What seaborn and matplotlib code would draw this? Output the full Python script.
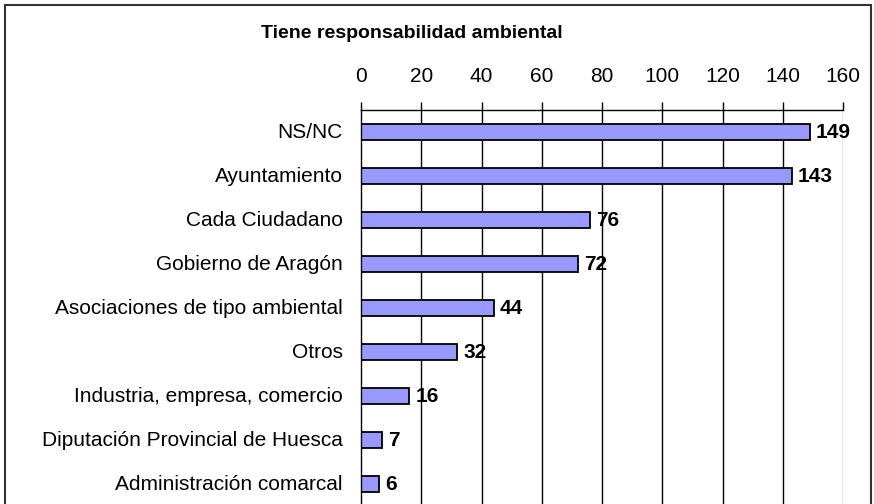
import matplotlib.pyplot as plt
import seaborn as sns
import pandas as pd
from matplotlib.patches import Rectangle

# chart data
categories = ["NS/NC", "Ayuntamiento", "Cada Ciudadano", "Gobierno de Aragón",
              "Asociaciones de tipo ambiental", "Otros",
              "Industria, empresa, comercio", "Diputación Provincial de Huesca",
              "Administración comarcal"]
values = [149, 143, 76, 72, 44, 32, 16, 7, 6]
x_ticks = [0, 20, 40, 60, 80, 100, 120, 140, 160]
title = "Tiene responsabilidad ambiental"

sns.set_style("white")
plt.rcParams['font.family'] = ['Liberation Sans', 'DejaVu Sans']
plt.rcParams['text.color'] = 'black'
plt.rcParams['xtick.color'] = 'black'
plt.rcParams['ytick.color'] = 'black'

df = pd.DataFrame({"cat": categories, "val": values})

fig = plt.figure(figsize=(8.74, 5.04), dpi=100)
ax = fig.add_axes([361 / 874, 1 - 506 / 504, (843 - 361) / 874, 396 / 504])

sns.barplot(data=df, x="val", y="cat", orient="h", color="#9999FF",
            edgecolor="black", linewidth=1.3, width=0.37, saturation=1, ax=ax)

ax.set_xlim(0, 160)
ax.set_ylim(len(categories) - 0.5, -0.5)
ax.set_xticks(x_ticks)
ax.xaxis.tick_top()
ax.tick_params(axis="x", direction="out", length=6, width=1, pad=11,
               labelsize=15, top=True, bottom=False, colors="black")
ax.tick_params(axis="y", which="major", length=0, pad=13, labelsize=15,
               colors="black")
ax.set_yticks([i - 0.5 for i in range(len(categories))], minor=True)
ax.tick_params(axis="y", which="minor", direction="out", length=6, width=1,
               color="black")
for lab in ax.get_yticklabels():
    lab.set_va("center")
ax.set_xlabel("")
ax.set_ylabel("")

# vertical gridlines
for t in x_ticks[1:]:
    ax.axvline(t, color="#808080" if t == 160 else "black", lw=1, zorder=0)

for s in ["right", "bottom"]:
    ax.spines[s].set_visible(False)
for s in ["top", "left"]:
    ax.spines[s].set_color("black")
    ax.spines[s].set_linewidth(1)

for i, v in enumerate(values):
    ax.text(v + 2, i, str(v), va="center", ha="left", fontsize=15,
            fontweight="bold")

fig.text(412 / 874, 1 - 34 / 504, title, ha="center", va="center",
         fontsize=14, fontweight="bold")

# outer frame
fig.patches.append(Rectangle((5 / 874, -0.1), 866 / 874, 1.1 - 5 / 504,
                             transform=fig.transFigure, fill=False,
                             edgecolor="#333333", lw=1.5))

fig.savefig("out.png", dpi=100)
